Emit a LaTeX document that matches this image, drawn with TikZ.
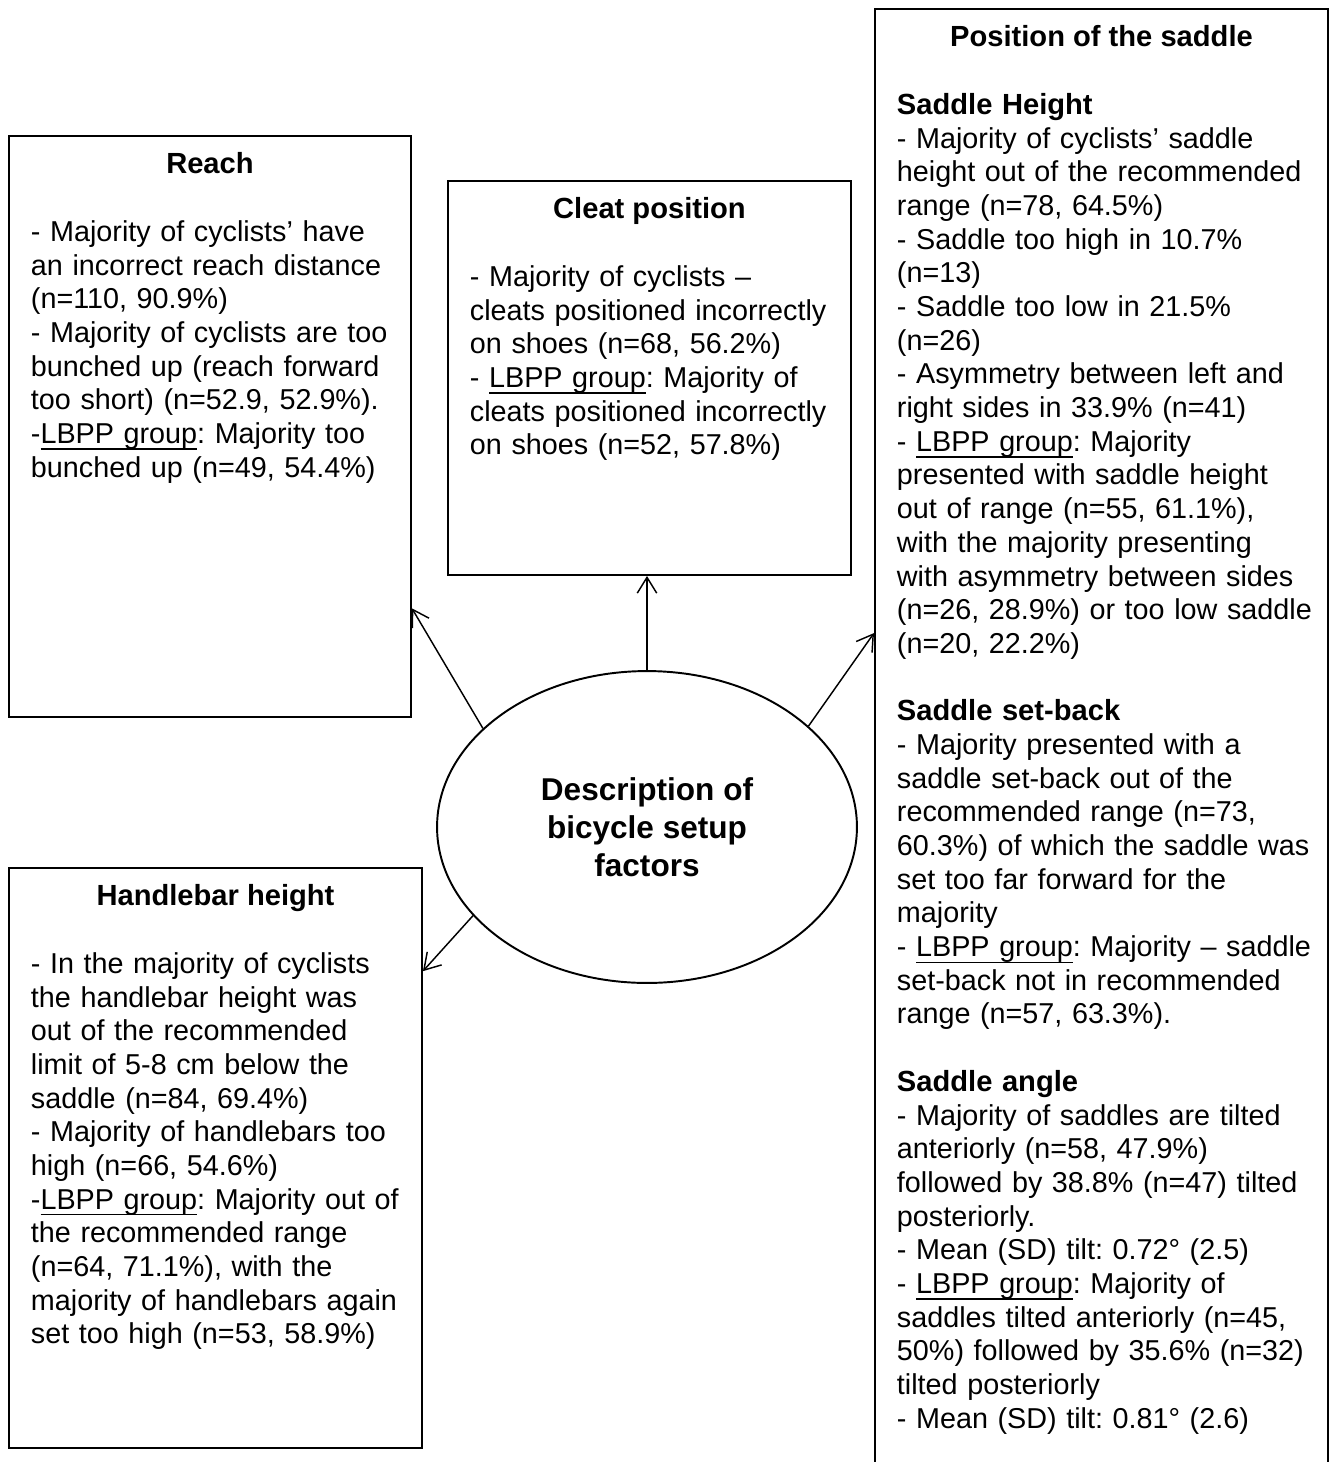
\documentclass[tikz,border=0pt]{standalone}
\usepackage{fontspec}
\setmainfont{Liberation Sans}
\frenchspacing
\newcommand{\uln}[1]{\setbox0\hbox{#1}\rlap{\rule[-2.6pt]{\wd0}{0.55pt}}\box0}
\usetikzlibrary{positioning,arrows.meta,shapes.geometric}
\tikzset{
panel/.style={draw=black,line width=0.8pt,inner sep=0pt,anchor=north west},
paneltitle/.style={inner sep=0pt,outer sep=0pt,font=\fontsize{12}{13.88}\selectfont\bfseries},
paneltext/.style={inner sep=0pt,outer sep=0pt,text width=190pt,align=left,font=\fontsize{11.85}{13.88}\selectfont},
hub/.style={ellipse,draw=black,line width=0.8pt,minimum width=173pt,minimum height=128.5pt,inner sep=0pt,align=center,font=\fontsize{13}{15.6}\selectfont\bfseries},
link/.style={-{Straight Barb[length=6.5pt,width=8pt]},line width=0.6pt}
}

\begin{document}
\begin{tikzpicture}[x=0.412pt,y=-0.412pt]
\useasboundingbox (0,0) rectangle (1332,1462);
% frames
\node[panel,minimum width=165.62pt,minimum height=239.37pt] (reach) at (8,135) {};
\node[panel,minimum width=166.04pt,minimum height=162.33pt] (cleat) at (447,180) {};
\node[panel,minimum width=186.64pt,minimum height=609.76pt] (saddle) at (874,8) {};
\node[panel,minimum width=170.16pt,minimum height=238.96pt] (handle) at (8,867) {};
% titles
\node[paneltitle,below=6.3pt of reach.north] (reachT) {\strut Reach};
\node[paneltitle,below=6.3pt of cleat.north] (cleatT) {\strut Cleat position};
\node[paneltitle,below=6.3pt of saddle.north] (saddleT) {\strut Position of the saddle};
\node[paneltitle,below=6.3pt of handle.north] (handleT) {\strut Handlebar height};
% texts
\node[paneltext,below right=34.1pt and 9.46pt of reach.north west] (reachB) {\strut
- Majority of cyclists’ have\\
an incorrect reach distance\\
(n=110, 90.9\%)\\
- Majority of cyclists are too\\
bunched up (reach forward\\
too short) (n=52.9, 52.9\%).\\
-\uln{LBPP group}: Majority too\\
bunched up (n=49, 54.4\%)};
\node[paneltext,below right=34.1pt and 9.46pt of cleat.north west] (cleatB) {\strut
- Majority of cyclists –\\
cleats positioned incorrectly\\
on shoes (n=68, 56.2\%)\\
- \uln{LBPP group}: Majority of\\
cleats positioned incorrectly\\
on shoes (n=52, 57.8\%)};
\node[paneltext,below right=34.1pt and 9.46pt of saddle.north west] (saddleB) {\strut
\textbf{\fontsize{12}{13.88}\selectfont Saddle Height}\\
- Majority of cyclists’ saddle\\
height out of the recommended\\
range (n=78, 64.5\%)\\
- Saddle too high in 10.7\%\\
(n=13)\\
- Saddle too low in 21.5\%\\
(n=26)\\
- Asymmetry between left and\\
right sides in 33.9\% (n=41)\\
- \uln{LBPP group}: Majority\\
presented with saddle height\\
out of range (n=55, 61.1\%),\\
with the majority presenting\\
with asymmetry between sides\\
(n=26, 28.9\%) or too low saddle\\
(n=20, 22.2\%)\\[13.88pt]
\textbf{\fontsize{12}{13.88}\selectfont Saddle set-back}\\
- Majority presented with a\\
saddle set-back out of the\\
recommended range (n=73,\\
60.3\%) of which the saddle was\\
set too far forward for the\\
majority\\
- \uln{LBPP group}: Majority – saddle\\
set-back not in recommended\\
range (n=57, 63.3\%).\\[13.88pt]
\textbf{\fontsize{12}{13.88}\selectfont Saddle angle}\\
- Majority of saddles are tilted\\
anteriorly (n=58, 47.9\%)\\
followed by 38.8\% (n=47) tilted\\
posteriorly.\\
- Mean (SD) tilt: 0.72° (2.5)\\
- \uln{LBPP group}: Majority of\\
saddles tilted anteriorly (n=45,\\
50\%) followed by 35.6\% (n=32)\\
tilted posteriorly\\
- Mean (SD) tilt: 0.81° (2.6)};
\node[paneltext,below right=34.1pt and 9.46pt of handle.north west] (handleB) {\strut
- In the majority of cyclists\\
the handlebar height was\\
out of the recommended\\
limit of 5-8 cm below the\\
saddle (n=84, 69.4\%)\\
- Majority of handlebars too\\
high (n=66, 54.6\%)\\
-\uln{LBPP group}: Majority out of\\
the recommended range\\
(n=64, 71.1\%), with the\\
majority of handlebars again\\
set too high (n=53, 58.9\%)};
% centre
\node[hub] (desc) at (647,827) {Description of\\bicycle setup\\factors};
\draw[link] (desc.149) -- (reach.-42.1);
\draw[link] (desc.north) -- (desc.north |- cleat.south);
\draw[link] (desc.32.3) -- (saddle.153.9);
\draw[link] (desc.207) -- (handle.42.2);
\end{tikzpicture}
\end{document}
